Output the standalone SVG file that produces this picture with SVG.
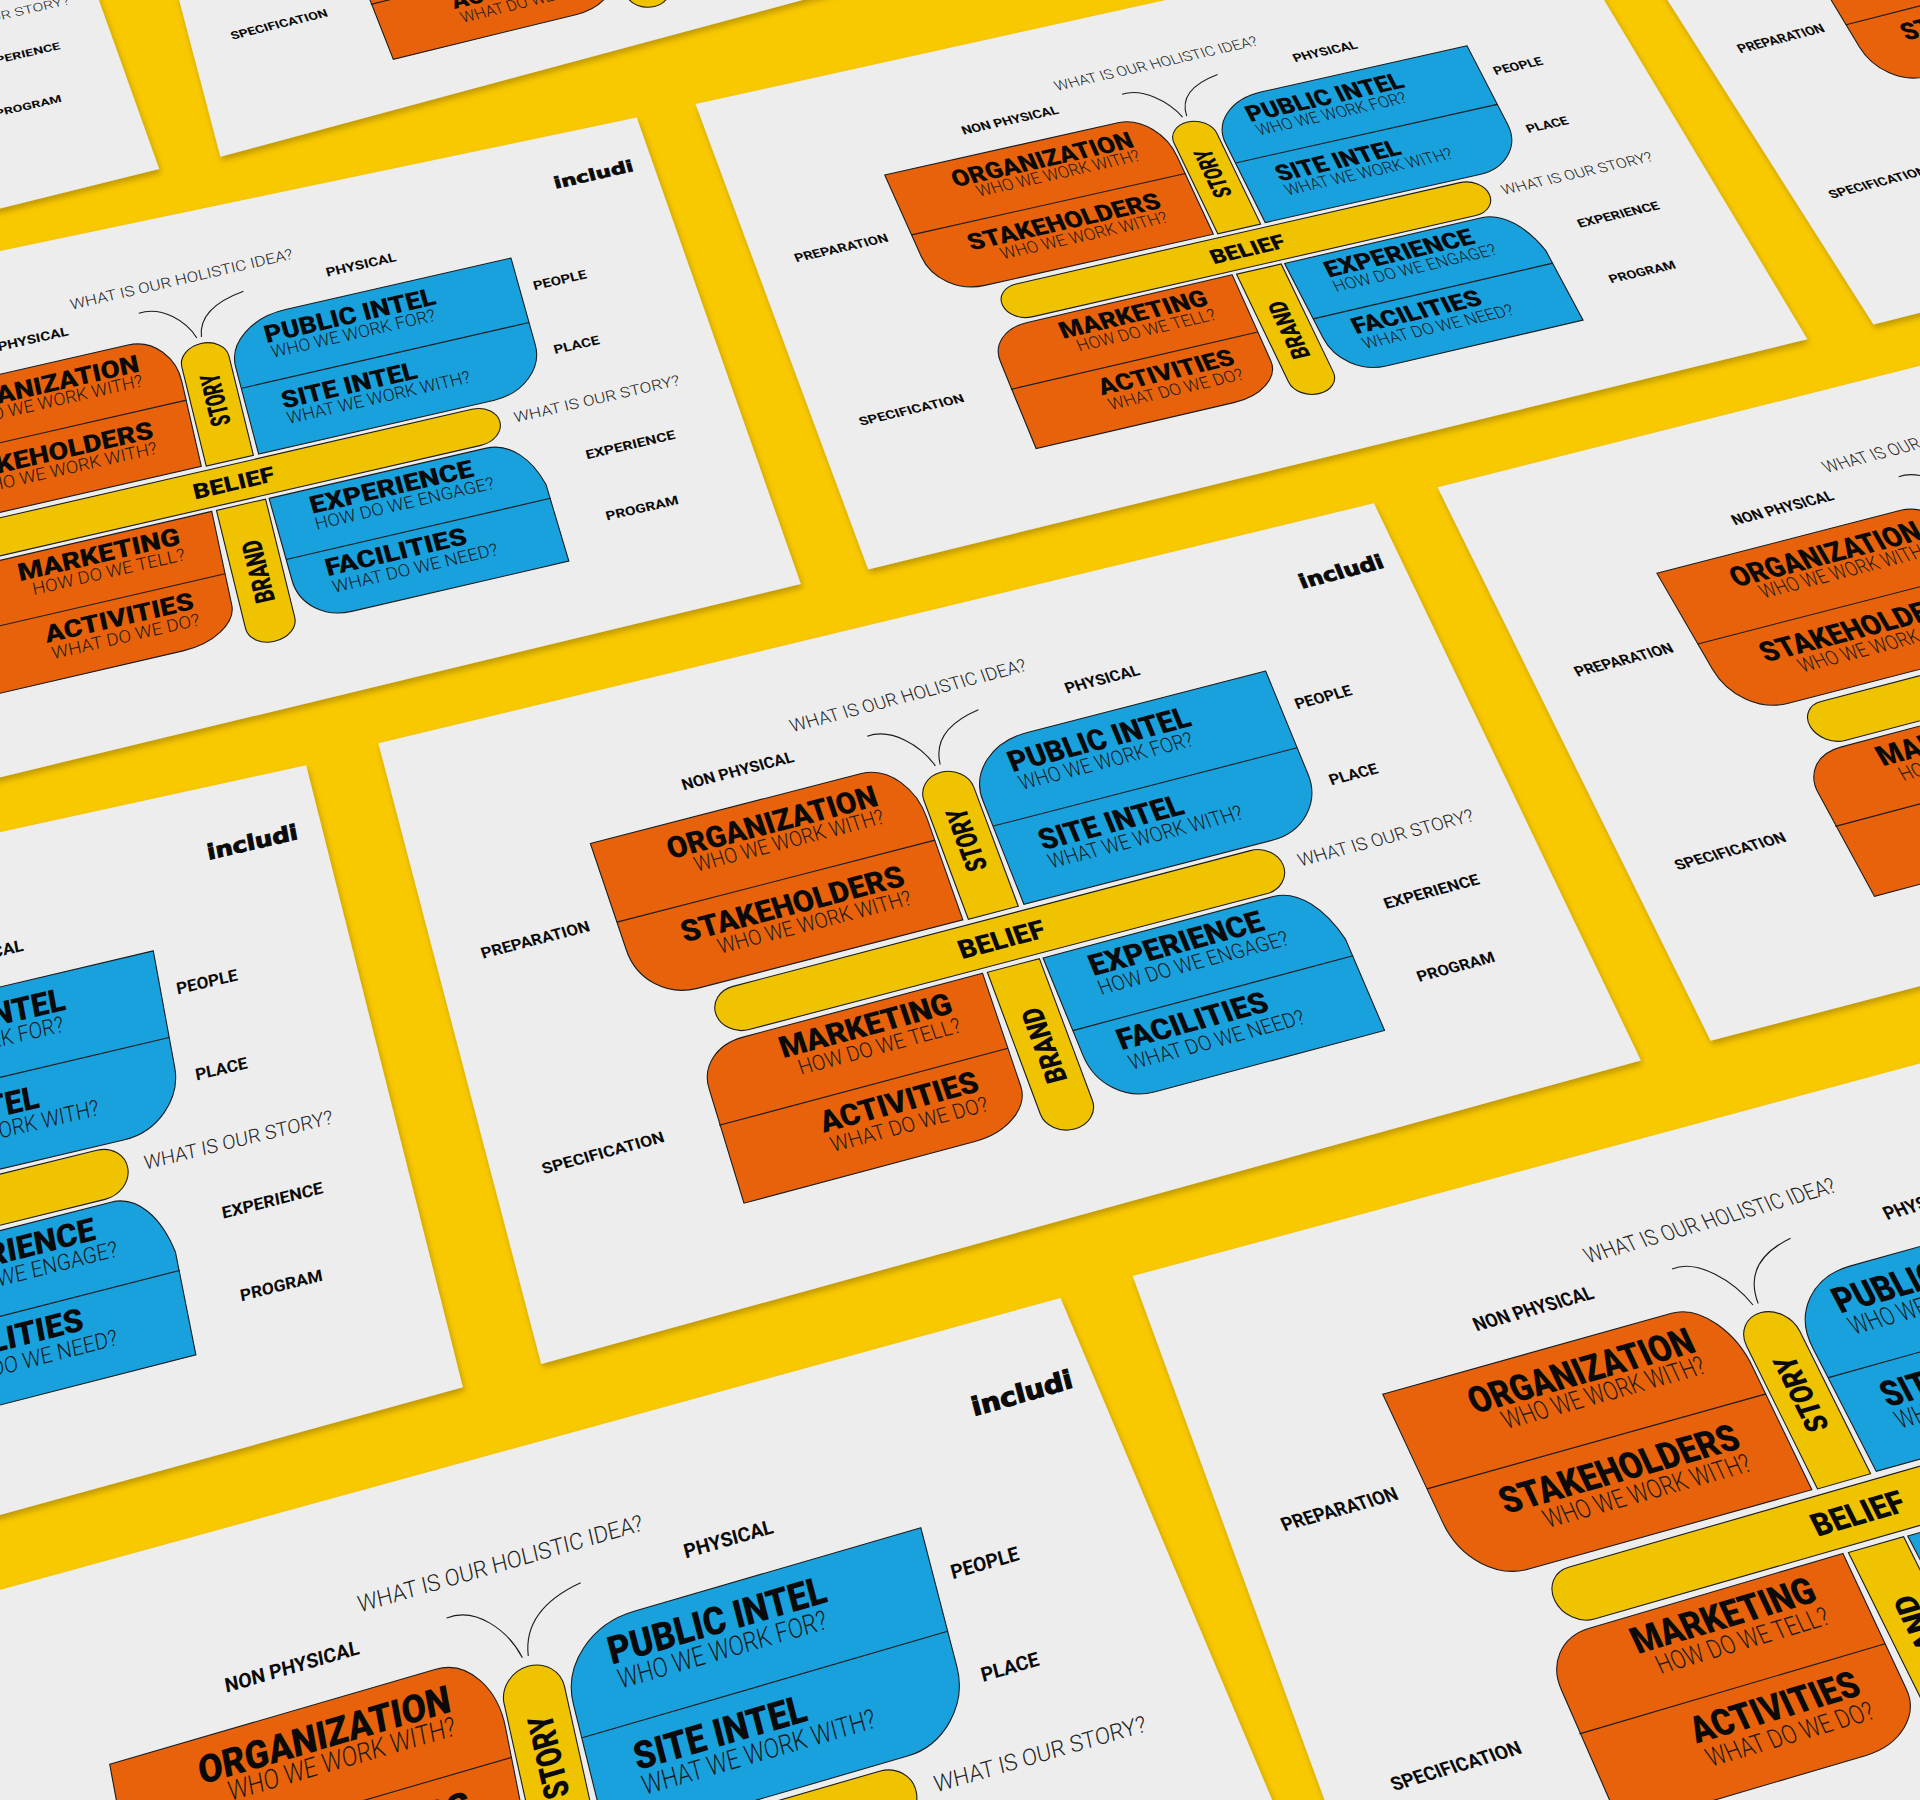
<svg xmlns="http://www.w3.org/2000/svg" xmlns:xlink="http://www.w3.org/1999/xlink" width="1920" height="1800" viewBox="0 0 1920 1800">
<style>
.sheet{fill:#ededed;filter:url(#sh)}
.or{fill:#e7620b}.bl{fill:#19a1de}.ba{fill:#efc300}
.ln{fill:none}
.or,.bl,.ba,.ln{stroke:#1c1c1c;stroke-width:1.1;vector-effect:non-scaling-stroke}
text{font-family:Roboto,"Liberation Sans",sans-serif;fill:#0a0a0a}
.t{font-size:47px;font-weight:900}
.s{font-size:33px;font-weight:300;fill:#1a1a1a}
.l{font-size:24px;font-weight:700}
.q{font-size:28px;font-weight:300;fill:#222}
.b{font-size:41px;font-weight:900}
.logo{font-family:"DejaVu Sans",sans-serif;font-size:31px;font-weight:700;stroke:#0a0a0a;stroke-width:1.4}
</style>
<defs>
<filter id="sh" x="-5%" y="-5%" width="110%" height="110%"><feDropShadow dx="1.5" dy="3" stdDeviation="2.5" flood-color="#8a6c00" flood-opacity=".55"/></filter>
<g id="q1">
<path class="or" d="M0,0 L397,0 C437,0 465,45 465,93 L467,260 L78,260 C35,260 0,225 0,175 Z"/>
<path class="ln" d="M0,129 L466,129"/>
<text class="t" x="101" y="55" textLength="306" lengthAdjust="spacingAndGlyphs">ORGANIZATION</text>
<text class="s" x="131" y="84" textLength="276" lengthAdjust="spacingAndGlyphs">WHO WE WORK WITH?</text>
<text class="t" x="82" y="186" textLength="325" lengthAdjust="spacingAndGlyphs">STAKEHOLDERS</text>
<text class="s" x="125" y="217" textLength="282" lengthAdjust="spacingAndGlyphs">WHO WE WORK WITH?</text>
<text class="l" x="150" y="-44" textLength="163" lengthAdjust="spacingAndGlyphs">NON PHYSICAL</text>
<text class="l" x="-197" y="132" textLength="158" lengthAdjust="spacingAndGlyphs">PREPARATION</text>
</g>
<g id="q2">
<path class="bl" d="M997,0 L648,0 C596,0 552,38 552,88 L550,262 L915,262 C960,262 997,222 997,175 Z"/>
<path class="ln" d="M552,130 L997,130"/>
<text class="t" x="607" y="55" textLength="264" lengthAdjust="spacingAndGlyphs">PUBLIC INTEL</text>
<text class="s" x="610" y="86" textLength="253" lengthAdjust="spacingAndGlyphs">WHO WE WORK FOR?</text>
<text class="t" x="605" y="187" textLength="209" lengthAdjust="spacingAndGlyphs">SITE INTEL</text>
<text class="s" x="606" y="218" textLength="283" lengthAdjust="spacingAndGlyphs">WHAT WE WORK WITH?</text>
<text class="l" x="722" y="-44" textLength="108" lengthAdjust="spacingAndGlyphs">PHYSICAL</text>
<text class="l" x="1018" y="71" textLength="82" lengthAdjust="spacingAndGlyphs">PEOPLE</text>
<text class="l" x="1022" y="201" textLength="70" lengthAdjust="spacingAndGlyphs">PLACE</text>
<text class="logo" x="1090" y="-112" textLength="122" lengthAdjust="spacingAndGlyphs">includi</text>
</g>
<g id="q3">
<path class="or" d="M462,350 L122,350 C82,350 55,380 55,415 L50,600 L378,600 C425,600 462,570 462,535 Z"/>
<path class="ln" d="M52,473 L462,473"/>
<text class="t" x="165" y="398" textLength="243" lengthAdjust="spacingAndGlyphs">MARKETING</text>
<text class="s" x="181" y="430" textLength="229" lengthAdjust="spacingAndGlyphs">HOW DO WE TELL?</text>
<text class="t" x="185" y="526" textLength="223" lengthAdjust="spacingAndGlyphs">ACTIVITIES</text>
<text class="s" x="189" y="559" textLength="222" lengthAdjust="spacingAndGlyphs">WHAT DO WE DO?</text>
<text class="l" x="-198" y="476" textLength="173" lengthAdjust="spacingAndGlyphs">SPECIFICATION</text>
</g>
<g id="q4">
<path class="bl" d="M553,350 L880,350 C915,350 940,390 950,445 L952,600 L625,600 C585,600 553,565 553,515 Z"/>
<path class="ln" d="M553,473 L951,473"/>
<text class="t" x="608" y="398" textLength="245" lengthAdjust="spacingAndGlyphs">EXPERIENCE</text>
<text class="s" x="608" y="430" textLength="269" lengthAdjust="spacingAndGlyphs">HOW DO WE ENGAGE?</text>
<text class="t" x="605" y="523" textLength="212" lengthAdjust="spacingAndGlyphs">FACILITIES</text>
<text class="s" x="608" y="557" textLength="248" lengthAdjust="spacingAndGlyphs">WHAT DO WE NEED?</text>
<text class="l" x="1018" y="415" textLength="134" lengthAdjust="spacingAndGlyphs">EXPERIENCE</text>
<text class="l" x="1022" y="540" textLength="109" lengthAdjust="spacingAndGlyphs">PROGRAM</text>
</g>
<g id="qc">
<path class="ba" d="M472,262 L472,64 A36,36 0 0 1 544,64 L544,262 Z"/>
<path class="ba" d="M471,350 L471,586 A37,36 0 0 0 546,586 L546,350 Z"/>
<rect class="ba" x="94" y="270" width="818" height="72" rx="36"/>
<path class="ln" d="M429,-56 C465,-60 495,-20 504,16"/>
<path class="ln" d="M588,-52 C545,-45 515,-25 511,16"/>
<text class="b" transform="translate(523,192) rotate(-90)" textLength="102" lengthAdjust="spacingAndGlyphs">STORY</text>
<text class="b" transform="translate(524,545) rotate(-90)" textLength="123" lengthAdjust="spacingAndGlyphs">BRAND</text>
<text class="b" x="444" y="320" textLength="123" lengthAdjust="spacingAndGlyphs">BELIEF</text>
<text class="q" x="333" y="-92" textLength="339" lengthAdjust="spacingAndGlyphs">WHAT IS OUR HOLISTIC IDEA?</text>
<text class="q" x="934" y="314" textLength="252" lengthAdjust="spacingAndGlyphs">WHAT IS OUR STORY?</text>
</g>
</defs>
<rect width="1920" height="1800" fill="#f9c900"/>
<g transform="scale(1.2245)">
<g id="card-top-left">
<polygon class="sheet" points="130,138 70,-30 -100,-30 -100,195"/>
<use href="#q2" transform="matrix(.495,-.115,.0917,.325,-558.5,37.5)"/>
<use href="#q4" transform="matrix(.495,-.115,.0917,.325,-558.5,37.5)"/>
<use href="#qc" transform="matrix(.495,-.115,.0917,.325,-558.5,37.5)"/>
</g>
<g id="card-top-middle">
<polygon class="sheet" points="180,128 700,-12 700,-100 120,-100"/>
<use href="#qc" transform="matrix(.448,-.1075,.1617,.3458,206,-155.3)"/>
<use href="#q3" transform="matrix(.454,-.1113,.1517,.3521,207.5,-157.2)"/>
<use href="#q4" transform="matrix(.454,-.1113,.1717,.3396,198.5,-151.6)"/>
</g>
<g id="card-top-right">
<polygon class="sheet" points="1530,265 1700,222 1700,-50 1330,-50"/>
<use href="#q1" transform="matrix(.4408,-.1125,.235,.39,1477.3,-30.1)"/>
<use href="#q3" transform="matrix(.4563,-.1175,.235,.36,1474.4,-32.4)"/>
</g>
<g id="card-upper">
<polygon class="sheet" points="568,85 1268,-70 1476,277 709,465"/>
<use href="#qc" transform="matrix(.4859,-.1109,.18,.3733,718,145.5)"/>
<use href="#q1" transform="matrix(.48,-.1075,.1701,.3791,722.5,142.9)"/>
<use href="#q2" transform="matrix(.48,-.1075,.1899,.3676,719.5,144.6)"/>
<use href="#q3" transform="matrix(.4919,-.1144,.1701,.3791,719.5,144.6)"/>
<use href="#q4" transform="matrix(.4919,-.1144,.1899,.3676,710.6,149.8)"/>
</g>
<g id="card-left">
<polygon class="sheet" points="520,96 654,477 -200,683 -200,247"/>
<use href="#qc" transform="matrix(.535,-.123,.1008,.4093,-110.5,331.5)"/>
<use href="#q1" transform="matrix(.5275,-.1205,.0883,.4135,-104.9,329.6)"/>
<use href="#q2" transform="matrix(.5275,-.1205,.1133,.4052,-108.6,330.9)"/>
<use href="#q3" transform="matrix(.5425,-.1255,.0883,.4135,-108.6,330.9)"/>
<use href="#q4" transform="matrix(.5425,-.1255,.1133,.4052,-119.9,334.6)"/>
</g>
<g id="card-right">
<polygon class="sheet" points="1174,398 2000,190 2200,640 1397,850"/>
<use href="#qc" transform="matrix(.5095,-.1335,.2725,.4408,1347.3,471.3)"/>
<use href="#q1" transform="matrix(.5018,-.1293,.2596,.4479,1353.1,468.1)"/>
<use href="#q2" transform="matrix(.5018,-.1293,.2854,.4338,1349.2,470.2)"/>
<use href="#q3" transform="matrix(.5173,-.1378,.2596,.4479,1349.2,470.2)"/>
<use href="#q4" transform="matrix(.5173,-.1378,.2854,.4338,1337.6,476.6)"/>
</g>
<g id="card-central">
<polygon class="sheet" points="309,607 1122,411 1340,866 442,1114"/>
<use href="#qc" transform="matrix(.5664,-.1486,.1831,.4901,475.5,692.5)"/>
<use href="#q1" transform="matrix(.5576,-.1437,.1685,.4983,482.1,688.8)"/>
<use href="#q2" transform="matrix(.5576,-.1437,.1977,.4818,477.7,691.3)"/>
<use href="#q3" transform="matrix(.5751,-.1536,.1685,.4983,477.7,691.3)"/>
<use href="#q4" transform="matrix(.5751,-.1536,.1977,.4818,464.6,698.7)"/>
</g>
<g id="card-lower-left">
<polygon class="sheet" points="250,625 378,1133 -300,1320 -300,745"/>
<use href="#qc" transform="matrix(.61,-.15,.0917,.5567,-480,920.5)"/>
<use href="#q1" transform="matrix(.605,-.1425,.0833,.5692,-476.3,914.9)"/>
<use href="#q2" transform="matrix(.605,-.1425,.1,.5442,-478,918.6)"/>
<use href="#q3" transform="matrix(.615,-.1575,.0833,.5692,-478.8,918.6)"/>
<use href="#q4" transform="matrix(.615,-.1575,.1,.5442,-485.5,929.9)"/>
</g>
<g id="card-bottom-left">
<polygon class="sheet" points="866,1060 1060,1520 -100,1600 -100,1326"/>
<use href="#qc" transform="matrix(.6845,-.1985,.1458,.6558,79.3,1443.3)"/>
<use href="#q1" transform="matrix(.6708,-.1953,.1229,.6613,89.6,1440.8)"/>
<use href="#q2" transform="matrix(.6708,-.1953,.1688,.6504,83.2,1442.4)"/>
<use href="#q3" transform="matrix(.6983,-.2018,.1229,.6613,82.7,1442.4)"/>
<use href="#q4" transform="matrix(.6983,-.2018,.1688,.6504,63.1,1447.3)"/>
</g>
<g id="card-bottom-right">
<polygon class="sheet" points="925,1042 2000,752 2000,1600 1100,1520"/>
<use href="#qc" transform="matrix(.6015,-.173,.2925,.5883,1123.8,1143.5)"/>
<use href="#q1" transform="matrix(.5943,-.1665,.2804,.5992,1129.2,1138.6)"/>
<use href="#q2" transform="matrix(.5943,-.1665,.3046,.5775,1125.6,1141.9)"/>
<use href="#q3" transform="matrix(.6088,-.1795,.2804,.5992,1125.6,1141.9)"/>
<use href="#q4" transform="matrix(.6088,-.1795,.3046,.5775,1114.7,1151.6)"/>
</g>
</g>
</svg>
